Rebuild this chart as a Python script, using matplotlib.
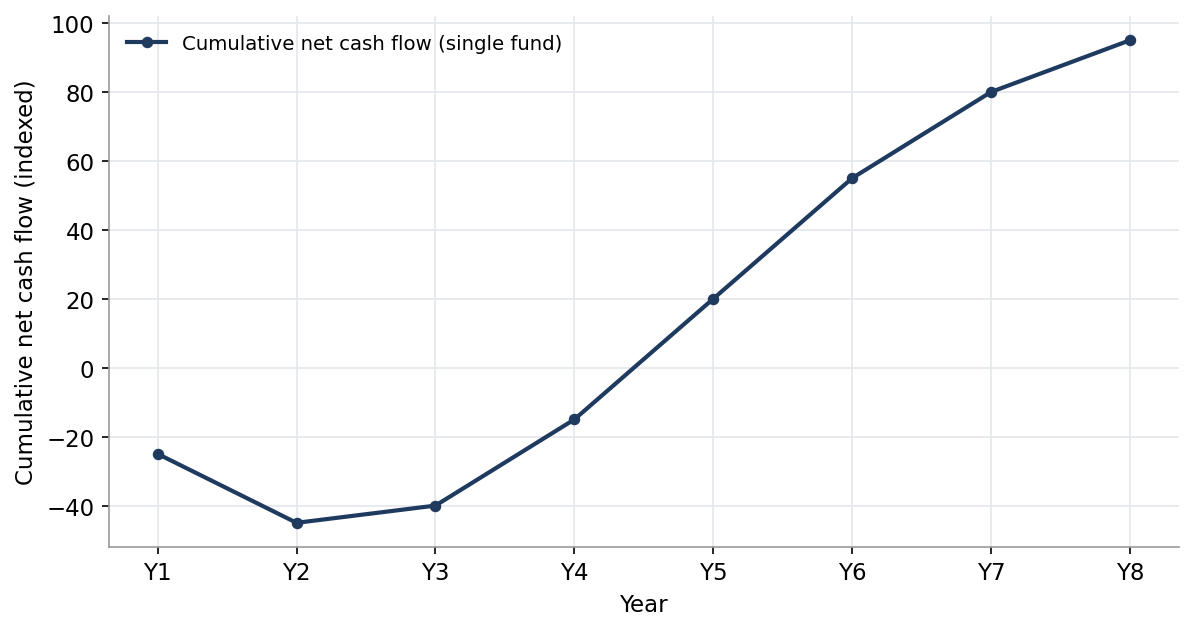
import matplotlib.pyplot as plt

years = ["Y1", "Y2", "Y3", "Y4", "Y5", "Y6", "Y7", "Y8"]
cum_cash = [-25, -45, -40, -15, 20, 55, 80, 95]

plt.rcParams["font.size"] = 11

fig, ax = plt.subplots(figsize=(7.953, 4.213), dpi=150)
ax.plot(years, cum_cash, color="#1f3a5f", linewidth=2, marker="o", markersize=4.5,
        label="Cumulative net cash flow (single fund)")

ax.set_xlabel("Year")
ax.set_ylabel("Cumulative net cash flow (indexed)")
ax.grid(True, color="#e3e7ee", linewidth=0.8)
ax.set_axisbelow(True)
for s in ["top", "right"]:
    ax.spines[s].set_visible(False)
for s in ["left", "bottom"]:
    ax.spines[s].set_color("#999999")
ax.legend(loc="upper left", frameon=False, fontsize=9.5)

fig.subplots_adjust(left=0.0914, right=0.988, top=0.973, bottom=0.133)
fig.savefig("out.png")
